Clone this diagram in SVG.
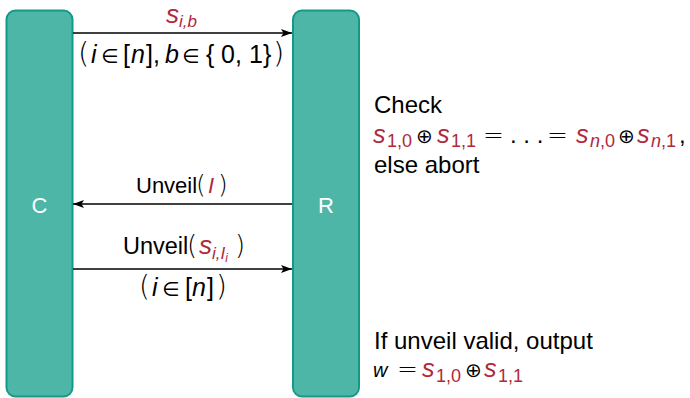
<svg xmlns="http://www.w3.org/2000/svg" width="690" height="398" viewBox="0 0 690 398">
  <defs>
    <marker id="arrow" viewBox="0 0 11 8" refX="11" refY="4" markerWidth="11" markerHeight="8" markerUnits="userSpaceOnUse" orient="auto">
      <path d="M0,0 L11,4 L0,8 L2.5,4 Z" fill="#000"/>
    </marker>
  </defs>
  <style>
    .party { fill: #4eb6a6; stroke: #139a86; stroke-width: 2; }
    .plabel { font-family: "Liberation Sans", Arial, sans-serif; font-size: 22px; fill: #ffffff; text-anchor: middle; }
    text { font-family: "Liberation Sans", Arial, sans-serif; fill: #000; }
    .it { font-style: italic; }
    .r { fill: #b0283c; }
    .dv { font-family: "DejaVu Sans", sans-serif; }
    .lt { font-family: "DejaVu Sans", sans-serif; font-weight: 200; }
    .link { stroke: #000; stroke-width: 1.5; fill: none; marker-end: url(#arrow); }
  </style>

  <!-- parties -->
  <g id="C">
    <rect class="party" x="6.5" y="10.5" width="66" height="386" rx="9"/>
    <text class="plabel" x="39.5" y="213">C</text>
  </g>
  <g id="R">
    <rect class="party" x="293" y="10.5" width="66" height="386" rx="9"/>
    <text class="plabel" x="326" y="213">R</text>
  </g>

  <!-- messages -->
  <g id="connectors">
    <line class="link" x1="73" y1="33" x2="292" y2="33"/>
    <line class="link" x1="292" y1="204" x2="73" y2="204"/>
    <line class="link" x1="73" y1="269" x2="292" y2="269"/>
  </g>

  <!-- message labels -->
  <g id="msg1">
    <text x="166" y="23" style="font-size:26px"><tspan class="it r">s</tspan><tspan class="it r" dy="4" style="font-size:17px">i,b</tspan></text>
    <text y="63" style="font-size:25px"><tspan class="lt" x="78" style="font-size:29px">(</tspan><tspan class="it" x="91">i</tspan><tspan class="dv" x="101" style="font-size:20px">∈</tspan><tspan x="123">[</tspan><tspan class="it" x="131">n</tspan><tspan x="146">],</tspan><tspan class="it" x="165">b</tspan><tspan class="dv" x="182" style="font-size:20px">∈</tspan><tspan x="206">{</tspan><tspan x="221">0,</tspan><tspan x="249">1</tspan><tspan x="263">}</tspan><tspan class="lt" x="273" style="font-size:29px">)</tspan></text>
  </g>
  <g id="msg2">
    <text y="193" style="font-size:22px"><tspan x="136">Unveil</tspan><tspan class="lt" x="196" style="font-size:25px">(</tspan><tspan class="it r" x="208">I</tspan><tspan class="lt" x="218" style="font-size:25px">)</tspan></text>
  </g>
  <g id="msg3">
    <text y="254" style="font-size:23.5px"><tspan x="123">Unveil</tspan><tspan class="lt" x="187" style="font-size:26px">(</tspan><tspan class="it r" x="199" style="font-size:26px">s</tspan><tspan class="it r" dy="5" style="font-size:17px">i,I</tspan><tspan class="it r" dy="3" style="font-size:12px">i</tspan><tspan class="lt" x="235" dy="-8" style="font-size:26px">)</tspan></text>
    <text y="296" style="font-size:25px"><tspan class="lt" x="139" style="font-size:28px">(</tspan><tspan class="it" x="152">i</tspan><tspan class="dv" x="162" style="font-size:20px">∈</tspan><tspan x="185">[</tspan><tspan class="it" x="192">n</tspan><tspan x="207">]</tspan><tspan class="lt" x="216" style="font-size:28px">)</tspan></text>
  </g>

  <!-- notes beside R -->
  <g id="note-check">
    <text x="374" y="113" style="font-size:24px">Check</text>
    <text y="143" style="font-size:25px"><tspan class="it r" x="373">s</tspan><tspan class="r" x="387" dy="4" style="font-size:18px">1,0</tspan><tspan class="dv" x="416" dy="-4" style="font-size:20px">⊕</tspan><tspan class="it r" x="437">s</tspan><tspan class="r" x="451" dy="4" style="font-size:18px">1,1</tspan><tspan class="lt" x="483" dy="-4" style="font-size:25px">=</tspan><tspan x="510" style="font-size:24px">. . .</tspan><tspan class="lt" x="547" style="font-size:25px">=</tspan><tspan class="it r" x="576">s</tspan><tspan class="it r" x="590" dy="4" style="font-size:18px">n</tspan><tspan class="r" style="font-size:18px">,0</tspan><tspan class="dv" x="618" dy="-4" style="font-size:20px">⊕</tspan><tspan class="it r" x="637">s</tspan><tspan class="it r" x="651" dy="4" style="font-size:18px">n</tspan><tspan class="r" style="font-size:18px">,1</tspan><tspan x="679" dy="-4" style="font-size:24px">,</tspan></text>
    <text x="374" y="173" style="font-size:24px">else abort</text>
  </g>
  <g id="note-output">
    <text x="374" y="349" style="font-size:24px">If unveil valid, output</text>
    <text y="377" style="font-size:25px"><tspan class="it" x="373" style="font-size:20px">w</tspan><tspan class="lt" x="397" style="font-size:25px">=</tspan><tspan class="it r" x="422">s</tspan><tspan class="r" x="436" dy="5" style="font-size:18px">1,0</tspan><tspan class="dv" x="465" dy="-5" style="font-size:20px">⊕</tspan><tspan class="it r" x="484">s</tspan><tspan class="r" x="498" dy="5" style="font-size:18px">1,1</tspan></text>
  </g>
</svg>
